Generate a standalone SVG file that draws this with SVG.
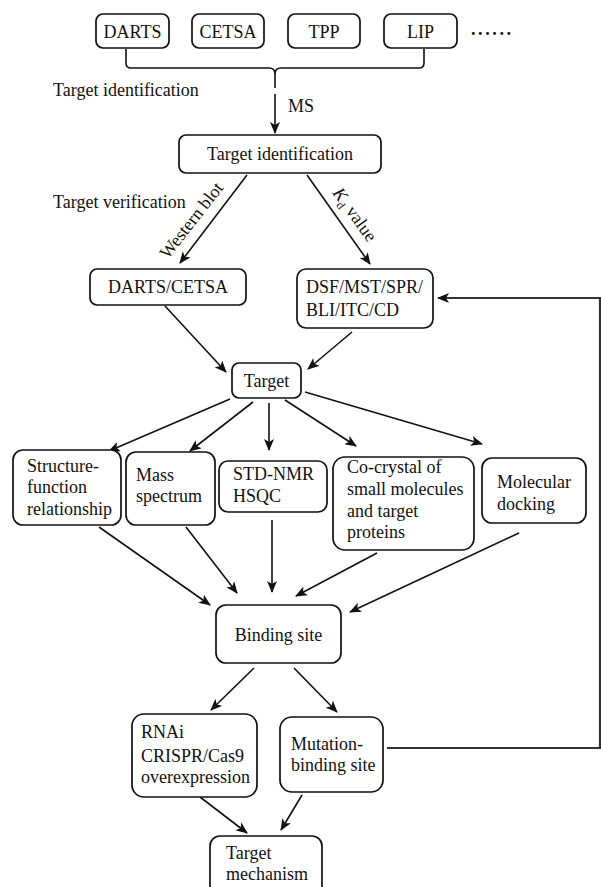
<svg xmlns="http://www.w3.org/2000/svg" width="601" height="887" viewBox="0 0 601 887">
<style>
.box{fill:#fff;stroke:#111;stroke-width:1.7}
.t{font-family:"Liberation Serif","Times New Roman",serif;font-size:18px;fill:#111}
.c{text-anchor:middle}
.ln{fill:none;stroke:#111;stroke-width:1.6}
.fb{fill:none;stroke:#333;stroke-width:2.2}
</style>
<defs>
<marker id="ah" viewBox="0 0 12 10" refX="11" refY="5" markerWidth="12" markerHeight="10" orient="auto" markerUnits="userSpaceOnUse"><path d="M0,0 L12,5 L0,10 L3,5 z" fill="#111"/></marker>
</defs>
<rect width="601" height="887" fill="#fff"/>

<g id="labels">
<text class="t" x="53" y="96">Target identification</text>
<text class="t" x="53" y="208">Target verification</text>
<text class="t" x="288" y="112">MS</text>
<text class="t c" x="196" y="224" transform="rotate(-52 196 224)">Western blot</text>
<text class="t c" x="350" y="218" transform="rotate(54 350 218)"><tspan font-style="italic">K</tspan><tspan font-size="12" dy="4">d</tspan><tspan dy="-4"> value</tspan></text>
<text class="t" x="471" y="35" font-weight="bold" letter-spacing="2.6">......</text>
</g>

<g id="connectors">
<path class="ln" d="M126,49 V63 Q126,68 131,68 H269 Q275,68 275,74 V88 M275,74 Q275,68 281,68 H419 Q424,68 424,63 V49"/>
<line class="ln" x1="275" y1="94" x2="275" y2="133" marker-end="url(#ah)"/>
<line class="ln" x1="247" y1="175" x2="180" y2="263" marker-end="url(#ah)"/>
<line class="ln" x1="307" y1="175" x2="370" y2="264" marker-end="url(#ah)"/>
<line class="ln" x1="165" y1="306" x2="226" y2="372" marker-end="url(#ah)"/>
<line class="ln" x1="352" y1="332" x2="308" y2="369" marker-end="url(#ah)"/>
<line class="ln" x1="230" y1="399" x2="109" y2="451" marker-end="url(#ah)"/>
<line class="ln" x1="253" y1="402" x2="190" y2="451" marker-end="url(#ah)"/>
<line class="ln" x1="269" y1="403" x2="269" y2="450" marker-end="url(#ah)"/>
<line class="ln" x1="285" y1="400" x2="356" y2="446" marker-end="url(#ah)"/>
<line class="ln" x1="305" y1="392" x2="482" y2="444" marker-end="url(#ah)"/>
<line class="ln" x1="99" y1="527" x2="210" y2="605" marker-end="url(#ah)"/>
<line class="ln" x1="186" y1="527" x2="237" y2="593" marker-end="url(#ah)"/>
<line class="ln" x1="272" y1="520" x2="272" y2="592" marker-end="url(#ah)"/>
<line class="ln" x1="377" y1="553" x2="296" y2="596" marker-end="url(#ah)"/>
<line class="ln" x1="519" y1="533" x2="350" y2="612" marker-end="url(#ah)"/>
<line class="ln" x1="254" y1="668" x2="211" y2="710" marker-end="url(#ah)"/>
<line class="ln" x1="294" y1="668" x2="337" y2="712" marker-end="url(#ah)"/>
<line class="ln" x1="200" y1="797" x2="247" y2="833" marker-end="url(#ah)"/>
<line class="ln" x1="302" y1="795" x2="281" y2="830" marker-end="url(#ah)"/>
<path class="fb" d="M387,748 H600 V298 H438" marker-end="url(#ah)"/>
</g>

<g id="n-darts"><rect class="box" x="96" y="14" width="73" height="34" rx="7"/><text class="t c" x="132.5" y="38">DARTS</text></g>
<g id="n-cetsa"><rect class="box" x="192" y="14" width="72" height="34" rx="7"/><text class="t c" x="228" y="38">CETSA</text></g>
<g id="n-tpp"><rect class="box" x="288" y="14" width="72" height="34" rx="7"/><text class="t c" x="324" y="38">TPP</text></g>
<g id="n-lip"><rect class="box" x="384" y="14" width="73" height="34" rx="7"/><text class="t c" x="420.5" y="38">LIP</text></g>
<g id="n-targetid"><rect class="box" x="179" y="135" width="202" height="38" rx="7"/><text class="t c" x="280" y="160">Target identification</text></g>
<g id="n-dartscetsa"><rect class="box" x="90" y="269" width="156" height="36" rx="7"/><text class="t c" x="168" y="293">DARTS/CETSA</text></g>
<g id="n-dsf"><rect class="box" x="297" y="269" width="136" height="59" rx="9"/><text class="t" x="306" y="293">DSF/MST/SPR/</text><text class="t" x="306" y="316">BLI/ITC/CD</text></g>
<g id="n-target"><rect class="box" x="232" y="363" width="69" height="35" rx="7"/><text class="t c" x="266.5" y="387">Target</text></g>
<g id="n-structure"><rect class="box" x="13" y="450" width="108" height="75" rx="10"/><text class="t" x="27" y="472">Structure-</text><text class="t" x="27" y="493">function</text><text class="t" x="27" y="515">relationship</text></g>
<g id="n-mass"><rect class="box" x="126" y="452" width="89" height="73" rx="10"/><text class="t" x="136" y="481">Mass</text><text class="t" x="136" y="502">spectrum</text></g>
<g id="n-std"><rect class="box" x="219" y="461" width="108" height="51" rx="9"/><text class="t" x="233" y="480">STD-NMR</text><text class="t" x="233" y="502">HSQC</text></g>
<g id="n-cocrystal"><rect class="box" x="333" y="457" width="141" height="93" rx="12"/><text class="t" x="347" y="473">Co-crystal of</text><text class="t" x="347" y="495">small molecules</text><text class="t" x="347" y="517">and target</text><text class="t" x="347" y="538">proteins</text></g>
<g id="n-docking"><rect class="box" x="482" y="458" width="104" height="65" rx="10"/><text class="t" x="497" y="488">Molecular</text><text class="t" x="497" y="510">docking</text></g>
<g id="n-binding"><rect class="box" x="216" y="605" width="125" height="58" rx="10"/><text class="t c" x="278.5" y="641">Binding site</text></g>
<g id="n-rnai"><rect class="box" x="132" y="714" width="125" height="83" rx="12"/><text class="t" x="141" y="738">RNAi</text><text class="t" x="141" y="762">CRISPR/Cas9</text><text class="t" x="141" y="783">overexpression</text></g>
<g id="n-mutation"><rect class="box" x="280" y="717" width="103" height="75" rx="12"/><text class="t" x="291" y="750">Mutation-</text><text class="t" x="291" y="771">binding site</text></g>
<g id="n-mechanism"><rect class="box" x="210" y="836" width="112" height="60" rx="10"/><text class="t" x="226" y="859">Target</text><text class="t" x="226" y="880">mechanism</text></g>
</svg>
